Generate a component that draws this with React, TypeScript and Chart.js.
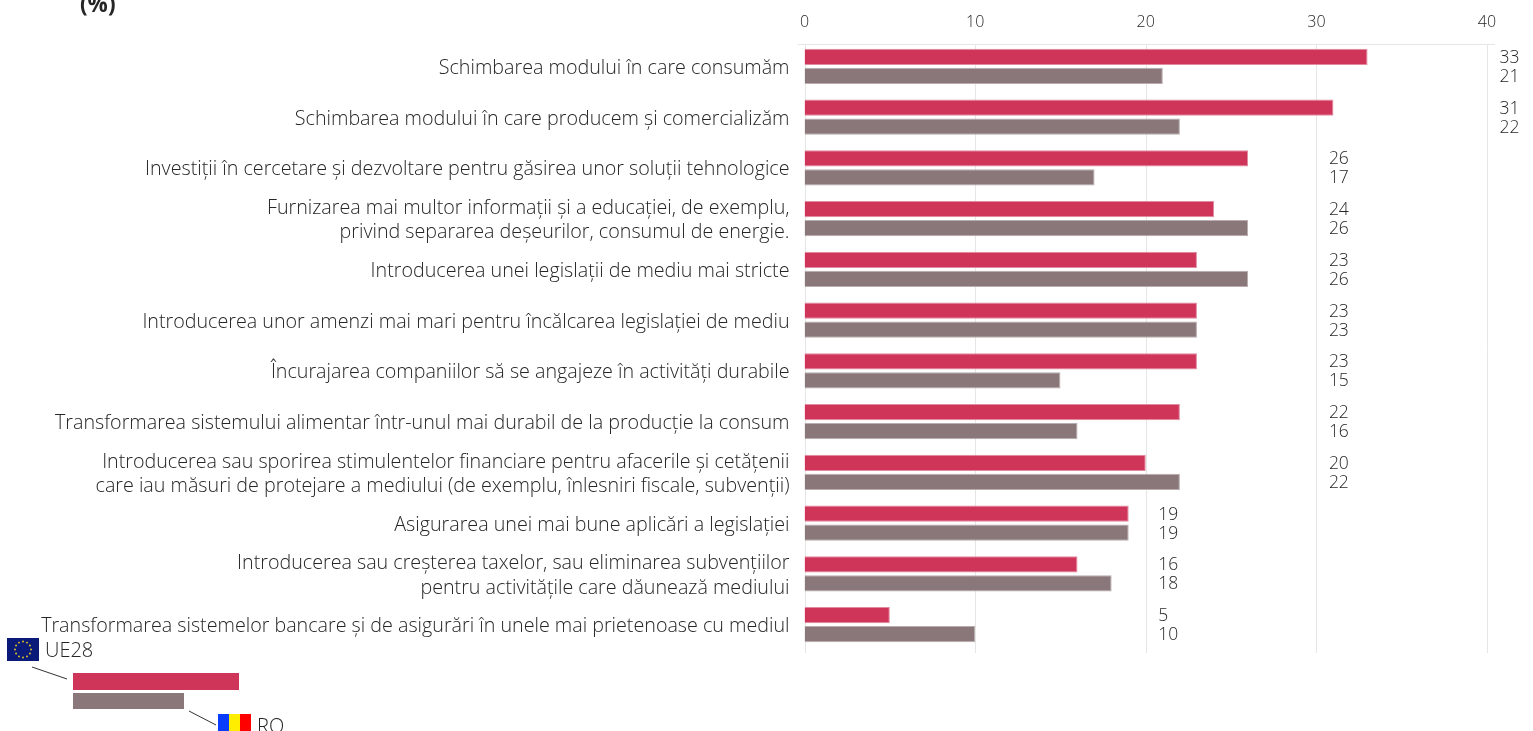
import React, { useEffect, useRef } from "react";
import { Chart, registerables } from "chart.js";

Chart.register(...registerables);

const categories: (string | string[])[] = [
  "Schimbarea modului în care consumăm",
  "Schimbarea modului în care producem și comercializăm",
  "Investiții în cercetare și dezvoltare pentru găsirea unor soluții tehnologice",
  ["Furnizarea mai multor informații și a educației, de exemplu,", "privind separarea deșeurilor, consumul de energie."],
  "Introducerea unei legislații de mediu mai stricte",
  "Introducerea unor amenzi mai mari pentru încălcarea legislației de mediu",
  "Încurajarea companiilor să se angajeze în activități durabile",
  "Transformarea sistemului alimentar într-unul mai durabil de la producție la consum",
  ["Introducerea sau sporirea stimulentelor financiare pentru afacerile și cetățenii", "care iau măsuri de protejare a mediului (de exemplu, înlesniri fiscale, subvenții)"],
  "Asigurarea unei mai bune aplicări a legislației",
  ["Introducerea sau creșterea taxelor, sau eliminarea subvențiilor", "pentru activitățile care dăunează mediului"],
  "Transformarea sistemelor bancare și de asigurări în unele mai prietenoase cu mediul",
];
const ue28 = [33, 31, 26, 24, 23, 23, 23, 22, 20, 19, 16, 5];
const ro = [21, 22, 17, 26, 26, 23, 15, 16, 22, 19, 18, 10];
// The gridline each pair of printed values sits beside.
const labelColumn = [40, 40, 30, 30, 30, 30, 30, 30, 30, 20, 20, 20];

const FONT = '"Open Sans", sans-serif';
const TEXT = "#262626";
const RED = "#cf3559";
const RED_EDGE = "#e28a9f";
const GREY = "#8a7779";
const GREY_EDGE = "#b9acae";

const overlay = {
  id: "overlay",
  beforeDatasetsDraw(chart: any) {
    const { ctx } = chart;
    const x = chart.scales.x;
    ctx.save();
    ctx.strokeStyle = "#e6e6e6";
    ctx.lineWidth = 1;
    x.ticks.forEach((t: any) => {
      const px = Math.round(x.getPixelForValue(t.value)) + 0.5;
      ctx.beginPath();
      ctx.moveTo(px, 44);
      ctx.lineTo(px, 653);
      ctx.stroke();
    });
    ctx.beginPath();
    ctx.moveTo(798, 44.5);
    ctx.lineTo(1495, 44.5);
    ctx.stroke();
    ctx.restore();
  },
  afterDatasetsDraw(chart: any) {
    const { ctx } = chart;
    const x = chart.scales.x;
    ctx.save();
    ctx.fillStyle = TEXT;
    ctx.font = `300 17.5px ${FONT}`;
    ctx.textBaseline = "middle";
    ctx.textAlign = "left";
    [0, 1].forEach((ds) => {
      const values = chart.data.datasets[ds].data;
      chart.getDatasetMeta(ds).data.forEach((bar: any, i: number) => {
        ctx.fillText(String(values[i]), x.getPixelForValue(labelColumn[i]) + 12.5, bar.y + 1);
      });
    });

    // Title fragment
    ctx.font = `700 22.5px ${FONT}`;
    ctx.fillText("(%)", 80, 6);

    // Key
    ctx.fillStyle = RED;
    ctx.fillRect(73, 673, 166, 17);
    ctx.fillStyle = GREY;
    ctx.fillRect(73, 693, 111, 16);
    ctx.strokeStyle = "#333333";
    ctx.lineWidth = 1;
    ctx.beginPath();
    ctx.moveTo(32, 667);
    ctx.lineTo(67, 679);
    ctx.moveTo(189, 711);
    ctx.lineTo(216, 725);
    ctx.stroke();

    // EU flag
    ctx.fillStyle = "#0a1a78";
    ctx.fillRect(7, 638, 32, 23);
    ctx.fillStyle = "#f2d21f";
    for (let i = 0; i < 12; i++) {
      const a = (i * Math.PI) / 6;
      ctx.beginPath();
      ctx.arc(23 + 8 * Math.cos(a), 649.5 + 8 * Math.sin(a), 0.9, 0, Math.PI * 2);
      ctx.fill();
    }
    // Romanian flag
    ctx.fillStyle = "#0a3cff";
    ctx.fillRect(218, 714, 11, 17);
    ctx.fillStyle = "#ffee00";
    ctx.fillRect(229, 714, 11, 17);
    ctx.fillStyle = "#ff0000";
    ctx.fillRect(240, 714, 11, 17);

    ctx.fillStyle = TEXT;
    ctx.font = `300 20px ${FONT}`;
    ctx.fillText("UE28", 45, 651);
    ctx.fillText("RO", 257, 727);
    ctx.restore();
  },
};

export default function App() {
  const ref = useRef<HTMLCanvasElement>(null);
  useEffect(() => {
    const chart = new Chart(ref.current!, {
      type: "bar",
      data: {
        labels: categories as any,
        datasets: [
          { label: "UE28", data: ue28, backgroundColor: RED, borderColor: RED_EDGE, borderWidth: 1, categoryPercentage: 0.749, barPercentage: 0.86 },
          { label: "RO", data: ro, backgroundColor: GREY, borderColor: GREY_EDGE, borderWidth: 1, categoryPercentage: 0.749, barPercentage: 0.86 },
        ],
      },
      options: {
        indexAxis: "y",
        responsive: false,
        animation: false,
        layout: { padding: { left: 0, top: 0, right: 46, bottom: 81 } },
        plugins: { legend: { display: false }, title: { display: false }, tooltip: { enabled: false } },
        scales: {
          x: {
            position: "top",
            min: 0,
            max: 40,
            grid: { display: false },
            border: { display: false },
            afterFit: (s: any) => { s.height = 41; },
            ticks: {
              stepSize: 10,
              padding: 1,
              color: TEXT,
              font: { family: FONT, size: 16, weight: "300" },
              maxRotation: 0,
            },
          },
          y: {
            grid: { display: false },
            border: { display: false },
            afterFit: (s: any) => { s.width = 804.5; },
            ticks: {
              autoSkip: false,
              padding: 7,
              labelOffset: 2,
              color: TEXT,
              font: { family: FONT, size: 19.7, weight: "300", lineHeight: 1.22 },
            },
          },
        },
      },
      plugins: [overlay],
    } as any);
    return () => chart.destroy();
  }, []);
  return (
    <canvas
      ref={ref}
      width={1533}
      height={731}
      style={{ position: "absolute", left: 0, top: 0, width: 1533, height: 731, display: "block" }}
    />
  );
}
